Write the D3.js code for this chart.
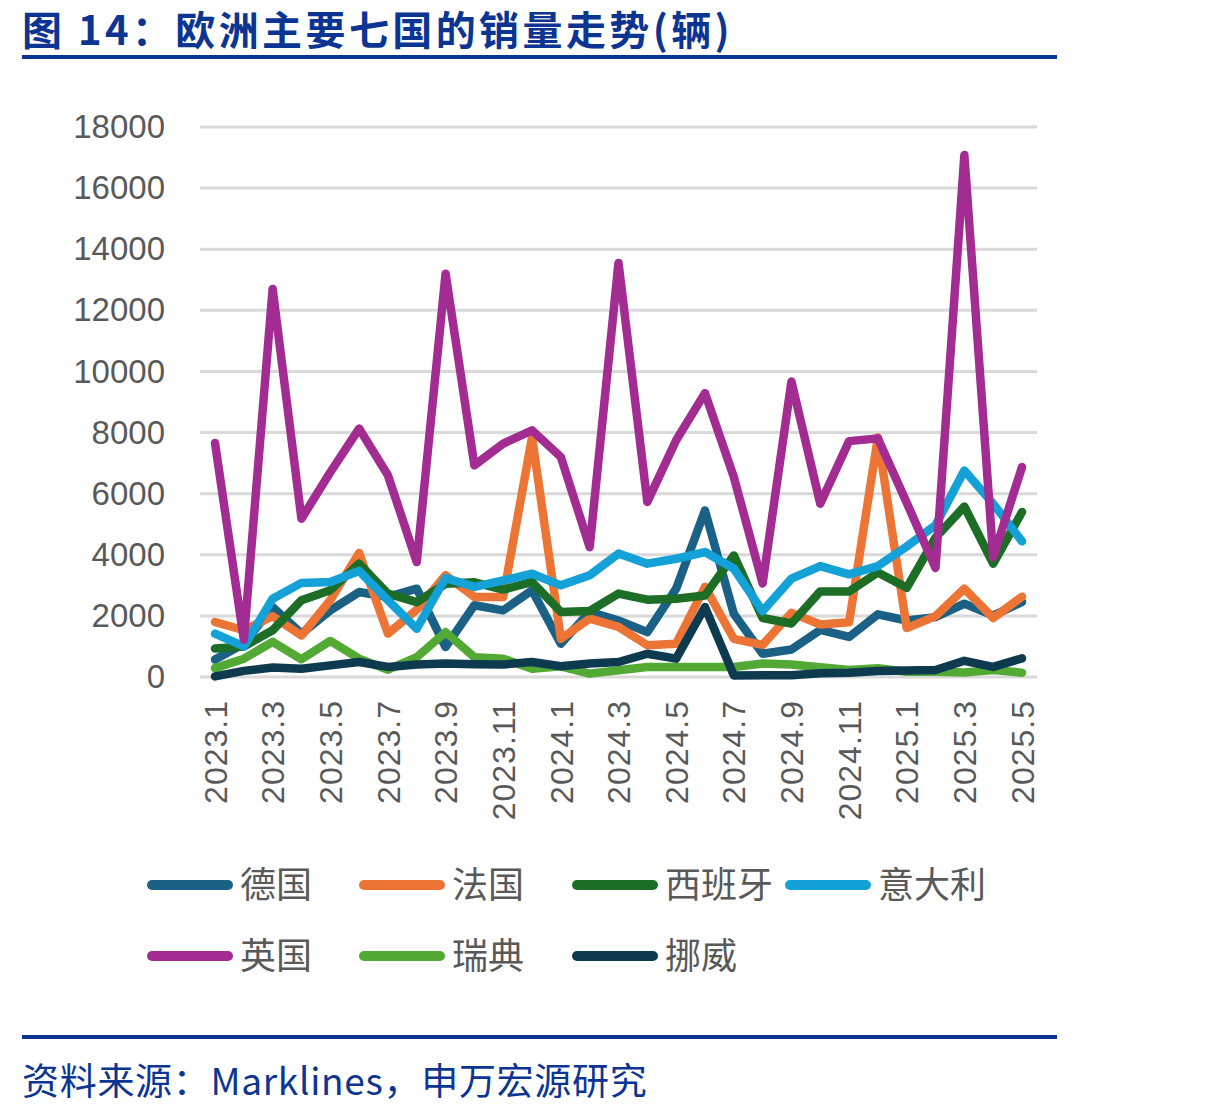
<!DOCTYPE html>
<html>
<head>
<meta charset="utf-8">
<script src="https://cdn.jsdelivr.net/npm/d3@7"></script>
<style>
  body { margin: 0; background: #fff; }
  svg { display: block; }
  text { font-family: "Liberation Sans", "Noto Sans CJK SC", sans-serif; }
  .cjk { font-family: "Noto Sans CJK SC", sans-serif; }
</style>
</head>
<body>
<svg width="1227" height="1112"></svg>
<script>
var months = ["2023.1","2023.2","2023.3","2023.4","2023.5","2023.6","2023.7","2023.8","2023.9","2023.10","2023.11","2023.12",
    "2024.1","2024.2","2024.3","2024.4","2024.5","2024.6","2024.7","2024.8","2024.9","2024.10","2024.11","2024.12",
    "2025.1","2025.2","2025.3","2025.4","2025.5"];

var germany = [570,1090,2290,1420,2180,2780,2620,2890,980,2350,2180,2840,1090,2130,1850,1470,2890,5450,2070,760,900,1540,1310,2050,1850,1960,2400,2010,2460];
var france  = [1800,1530,1990,1360,2510,4060,1420,2200,3330,2620,2620,7850,1250,1910,1640,1040,1090,2950,1250,1050,2100,1720,1790,7840,1600,1990,2890,1930,2630];
var spain   = [930,1000,1530,2510,2840,3710,2730,2450,3050,3100,2860,3110,2130,2160,2730,2530,2560,2670,3980,1930,1750,2800,2800,3420,2920,4560,5580,3710,5400];
var italy   = [1420,1000,2560,3080,3110,3470,2510,1580,3240,2950,3160,3380,3000,3330,4040,3710,3870,4090,3550,2150,3220,3630,3360,3630,4270,4970,6760,5670,4440];
var uk      = [7660,1220,12700,5180,6700,8130,6600,3760,13200,6930,7640,8070,7200,4250,13550,5730,7750,9290,6550,3060,9670,5670,7720,7810,5700,3570,17080,3920,6870];
var sweden  = [290,600,1150,580,1180,600,240,650,1470,650,600,270,350,110,220,330,330,330,330,440,410,320,230,290,170,170,150,230,140];
var norway  = [20,200,310,270,380,490,330,410,440,420,410,490,350,440,490,760,600,2290,50,60,60,120,140,200,210,230,530,330,610];

var seriesNames = ["德国","法国","西班牙","意大利","英国","瑞典","挪威"];
var seriesValues = [germany, france, spain, italy, uk, sweden, norway];
var colors = ["#1a6185","#ec7535","#1c6e26","#13a1d8","#a22c92","#52a934","#0e3a4f"];
var yTicks = [0,2000,4000,6000,8000,10000,12000,14000,16000,18000];

var svg = d3.select("svg");
var plotLeft = 200, plotRight = 1037, plotTop = 127, plotBottom = 677;

var x = d3.scalePoint().domain(months).range([215, 1022]);
var y = d3.scaleLinear().domain([0, 18000]).range([plotBottom, plotTop]);

// title
svg.append("text")
    .attr("class", "cjk")
    .attr("x", 22).attr("y", 45)
    .attr("font-size", 40).attr("font-weight", "bold")
    .attr("letter-spacing", 3.4)
    .attr("fill", "#0c3593")
    .text("图 14：欧洲主要七国的销量走势(辆)");
svg.append("rect").attr("x", 22).attr("y", 55).attr("width", 1035).attr("height", 4).attr("fill", "#0c3593");

// grid
svg.append("g").selectAll("line")
    .data(yTicks)
    .enter().append("line")
    .attr("x1", plotLeft).attr("x2", plotRight)
    .attr("y1", d => y(d)).attr("y2", d => y(d))
    .attr("stroke", "#d9d9d9").attr("stroke-width", 3);

// y axis
var yAxis = d3.axisLeft(y).tickValues(yTicks).tickSize(0).tickPadding(0).tickFormat(d3.format("d"));
var gy = svg.append("g").attr("transform", "translate(165,0)").call(yAxis);
gy.select(".domain").remove();
gy.selectAll("text")
    .attr("font-size", 33).attr("fill", "#595959")
    .attr("font-family", "Liberation Sans, sans-serif");

// x axis (every second month)
var xAxis = d3.axisBottom(x)
    .tickValues(months.filter((d, i) => i % 2 == 0))
    .tickSize(0).tickPadding(0);
var gx = svg.append("g").attr("transform", "translate(0," + 700 + ")").call(xAxis);
gx.select(".domain").remove();
gx.selectAll("text")
    .attr("font-size", 32).attr("fill", "#595959")
    .attr("font-family", "Liberation Sans, sans-serif")
    .attr("letter-spacing", 1)
    .attr("transform", "rotate(-90)")
    .attr("text-anchor", "end")
    .attr("x", 0).attr("y", 0).attr("dx", 0).attr("dy", "0.35em");

// lines
var line = d3.line().x((d, i) => x(months[i])).y(d => y(d));
svg.append("g").selectAll("path")
    .data(seriesValues)
    .enter().append("path")
    .attr("d", d => line(d))
    .attr("fill", "none")
    .attr("stroke", (d, i) => colors[i])
    .attr("stroke-width", 8.5)
    .attr("stroke-linejoin", "round")
    .attr("stroke-linecap", "round");

// legend
var legendX = [152, 364, 577, 790];
var legend = svg.append("g").selectAll("g")
    .data(seriesNames)
    .enter().append("g")
    .attr("transform", (d, i) => "translate(" + legendX[i % 4] + "," + (i < 4 ? 885 : 956) + ")");
legend.append("line")
    .attr("x1", 0).attr("x2", 76).attr("y1", 0).attr("y2", 0)
    .attr("stroke", (d, i) => colors[i])
    .attr("stroke-width", 10).attr("stroke-linecap", "round");
legend.append("text")
    .attr("class", "cjk")
    .attr("x", 88).attr("y", 13)
    .attr("font-size", 36).attr("fill", "#595959")
    .text(d => d);

// footer
svg.append("rect").attr("x", 22).attr("y", 1035).attr("width", 1035).attr("height", 4).attr("fill", "#0c3593");
svg.append("text")
    .attr("class", "cjk")
    .attr("x", 22).attr("y", 1095)
    .attr("font-size", 37).attr("fill", "#0c3593")
    .attr("letter-spacing", 0.7)
    .text("资料来源：Marklines，申万宏源研究");
</script>
</body>
</html>
